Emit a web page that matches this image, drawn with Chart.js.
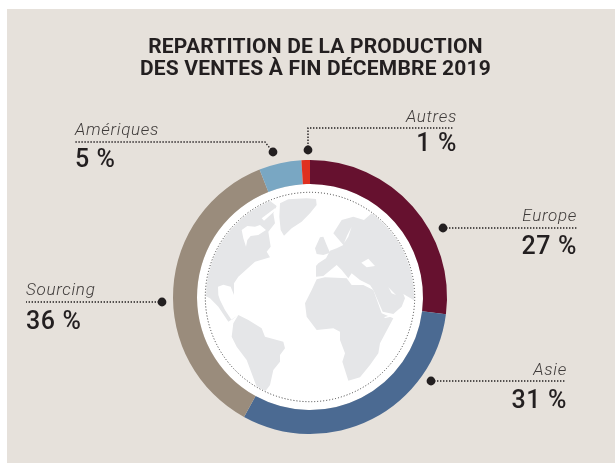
<!DOCTYPE html>
<html lang="fr">
<head>
<meta charset="UTF-8">
<title>Repartition de la production</title>
<script src="https://cdn.jsdelivr.net/npm/chart.js"></script>
<style>
    html, body { margin: 0; padding: 0; background: #fff; }
    #panel { position: absolute; left: 7px; top: 9px; width: 608px; height: 454px; background: #e6e1db; }
    #wrap { position: absolute; left: 0; top: 0; width: 615px; height: 463px; }
    #title { position: absolute; left: 0; top: 35px; width: 631px; text-align: center; font: 700 21px/22px Roboto, sans-serif; color: #231f20; letter-spacing: 0.2px; }
    .name, .pct { position: absolute; white-space: nowrap; font-family: Roboto, sans-serif; }
    .name { font-style: italic; font-weight: 300; font-size: 17px; line-height: 20px; color: #3f3b3a; letter-spacing: 0.7px; }
    .pct { font-weight: 500; font-size: 25px; line-height: 28px; color: #231f20; letter-spacing: 0.6px; }
</style>
</head>
<body>
<div id="panel"></div>
<div id="wrap"><canvas id="chart" width="615" height="463"></canvas></div>
<div id="title">REPARTITION DE LA PRODUCTION<br>DES VENTES À FIN DÉCEMBRE 2019</div>

<script>
    const categories = ['Europe', 'Asie', 'Sourcing', 'Amériques', 'Autres'];
    const shares = [27, 31, 36, 5, 1];
    const colors = ['#66112f', '#4b6a92', '#9a8c7c', '#79a7c3', '#df3020'];

    // leader lines and label anchors, in page pixels (same order as categories)
    const leaders = [
        { pts: [[443, 228], [577, 228]], side: 'right', x: 577, nameY: 205, pctY: 232 },
        { pts: [[431, 381], [565, 381]], side: 'right', x: 567, nameY: 359, pctY: 386 },
        { pts: [[162, 302], [26, 302]], side: 'left', x: 26, nameY: 279, pctY: 307 },
        { pts: [[273, 152], [265, 142], [75, 142]], side: 'left', x: 75, nameY: 119, pctY: 145 },
        { pts: [[308, 150], [308, 128], [454, 128]], side: 'right', x: 457, nameY: 106, pctY: 129 }
    ];

    // world map silhouette (units: 1/3 px, centre at 450,351)
    const land = [
        'M360,70 L385,58 L440,55 L468,57 L470,75 L450,100 L425,125 L395,145 L372,167 L362,150 L358,110 Z',
        'M100,330 L100,100 L300,40 L350,78 L340,100 L345,130 L325,155 L332,200 L320,215 L330,232 L285,245 L235,290 L222,310 L222,345 L212,320 L190,314 L174,320 L175,345 L180,360 L195,390 L215,420 L235,405 L205,425 L175,380 L150,355 Z',
        'M235,405 L265,420 L305,445 L315,470 L370,485 L375,505 L360,525 L360,545 L340,570 L330,615 L315,635 L290,620 L260,540 L230,500 L215,470 L220,430 Z',
        'M470,298 L495,292 L560,295 L575,315 L610,315 L640,330 L665,400 L700,415 L660,490 L655,520 L630,555 L600,592 L565,602 L547,545 L555,520 L540,480 L540,455 L520,445 L470,450 L440,410 L435,370 L455,330 Z',
        'M468,258 L475,250 L498,235 L510,212 L530,205 L550,195 L520,160 L545,120 L580,110 L612,120 L635,100 L660,85 L800,100 L830,400 L770,365 L730,342 L735,355 L725,380 L700,402 L668,395 L640,330 L630,315 L600,300 L575,280 L565,295 L545,270 L530,255 L490,288 L468,290 Z',
        'M465,205 L480,172 L490,170 L500,195 L510,218 L490,225 L470,222 Z'
    ];
    const seas = [
        'M245,150 L262,138 L285,140 L300,135 L318,150 L295,165 L272,168 L262,180 L258,200 L250,175 Z',
        'M305,115 L345,85 L350,88 L312,122 Z',
        'M552,190 L562,165 L575,140 L565,170 Z',
        'M604,248 L625,236 L645,258 L620,262 Z',
        'M685,322 L708,345 L695,340 Z',
        'M672,412 L700,403 L702,408 L676,414 Z'
    ];

    const mapPlugin = {
        id: 'globe',
        beforeDatasetsDraw(chart) {
            const arc = chart.getDatasetMeta(0).data[0];
            const ctx = chart.ctx;
            ctx.save();
            ctx.translate(arc.x, arc.y);
            ctx.fillStyle = '#fff';
            ctx.beginPath();
            ctx.arc(0, 0, arc.innerRadius, 0, Math.PI * 2);
            ctx.fill();
            ctx.beginPath();
            ctx.arc(0, 0, 104, 0, Math.PI * 2);
            ctx.clip();
            ctx.scale(1 / 3, 1 / 3);
            ctx.translate(-450, -351);
            ctx.fillStyle = '#e5e6e8';
            land.forEach(d => ctx.fill(new Path2D(d)));
            ctx.fillStyle = '#fff';
            seas.forEach(d => ctx.fill(new Path2D(d)));
            ctx.restore();

            ctx.save();
            ctx.strokeStyle = '#3a3a3a';
            ctx.lineWidth = 1;
            ctx.setLineDash([1, 2]);
            ctx.beginPath();
            ctx.arc(arc.x, arc.y, 104.7, 0, Math.PI * 2);
            ctx.stroke();
            ctx.restore();
        },
        afterDatasetsDraw(chart) {
            const ctx = chart.ctx;
            ctx.save();
            leaders.forEach(l => {
                ctx.strokeStyle = '#231f20';
                ctx.lineWidth = 1.4;
                ctx.setLineDash([1.4, 1.6]);
                ctx.beginPath();
                l.pts.forEach((p, i) => i ? ctx.lineTo(p[0], p[1]) : ctx.moveTo(p[0], p[1]));
                ctx.stroke();
                ctx.setLineDash([]);
                ctx.fillStyle = '#231f20';
                ctx.beginPath();
                ctx.arc(l.pts[0][0], l.pts[0][1], 4.4, 0, Math.PI * 2);
                ctx.fill();
            });
            ctx.restore();
        }
    };

    new Chart(document.getElementById('chart'), {
        type: 'doughnut',
        data: {
            labels: categories,
            datasets: [{ data: shares, backgroundColor: colors, borderWidth: 0 }]
        },
        options: {
            responsive: false,
            animation: false,
            cutout: 113,
            layout: { padding: { left: 173, right: 168, top: 160, bottom: 29 } },
            plugins: { legend: { display: false }, tooltip: { enabled: false } }
        },
        plugins: [mapPlugin]
    });

    // labels as page text
    categories.forEach((name, i) => {
        const l = leaders[i];
        [['name', name, l.nameY], ['pct', shares[i] + ' %', l.pctY]].forEach(([cls, text, y]) => {
            const el = document.createElement('div');
            el.className = cls;
            el.textContent = text;
            el.style.top = y + 'px';
            if (l.side === 'left') el.style.left = l.x + 'px';
            else el.style.right = (615 - l.x) + 'px';
            document.body.appendChild(el);
        });
    });
</script>
</body>
</html>
